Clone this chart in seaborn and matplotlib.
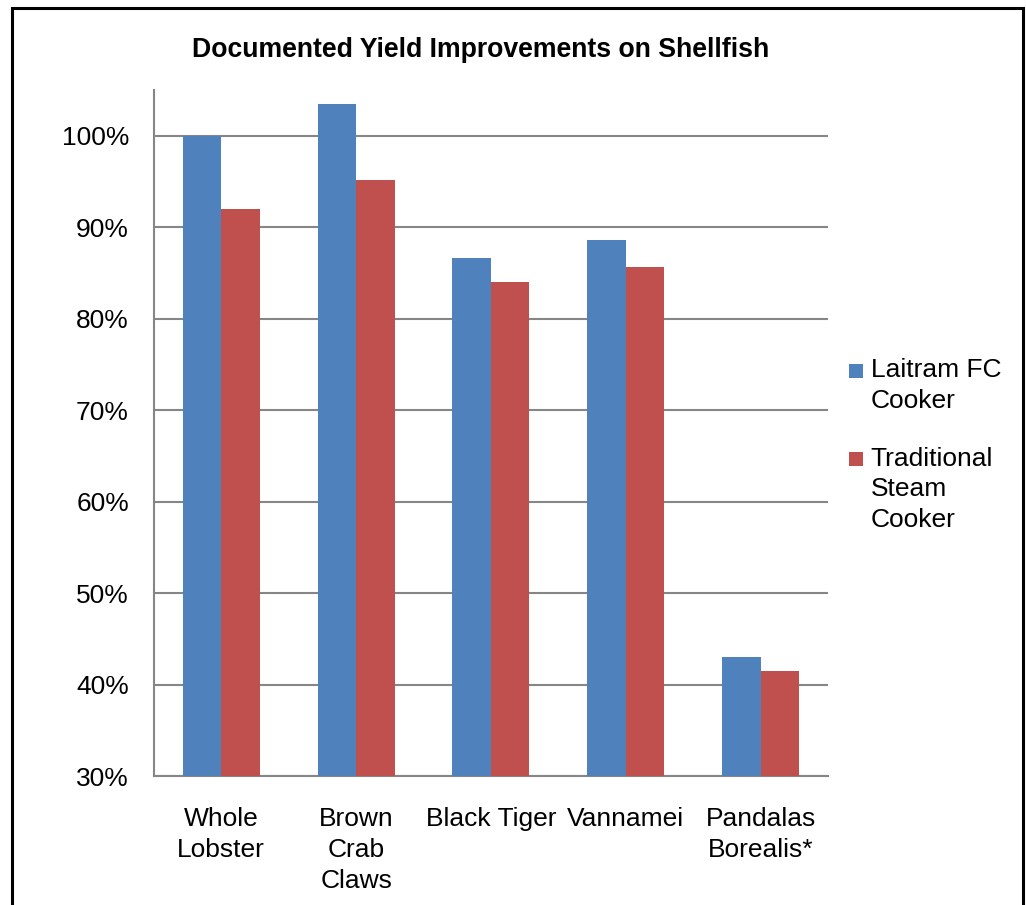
import numpy as np
import pandas as pd
import matplotlib
matplotlib.use("Agg")
import matplotlib.pyplot as plt
from matplotlib.patches import Rectangle
from matplotlib.ticker import PercentFormatter, FixedLocator
from matplotlib.legend_handler import HandlerPatch
import seaborn as sns

# data
categories = ["Whole\nLobster", "Brown\nCrab\nClaws", "Black Tiger", "Vannamei", "Pandalas\nBorealis*"]
series_names = ["Laitram FC\nCooker", "Traditional\nSteam\nCooker"]
laitram = [1.000, 1.035, 0.866, 0.886, 0.430]
traditional = [0.920, 0.952, 0.840, 0.856, 0.415]
y_ticks = [0.3, 0.4, 0.5, 0.6, 0.7, 0.8, 0.9, 1.0]

df = pd.DataFrame({
    "category": categories * 2,
    "yield": laitram + traditional,
    "cooker": [series_names[0]] * len(categories) + [series_names[1]] * len(categories),
})

sns.set_theme(style="white")
plt.rcParams["font.family"] = ["Liberation Sans", "DejaVu Sans"]
plt.rcParams["text.color"] = "black"
plt.rcParams["xtick.color"] = "black"
plt.rcParams["ytick.color"] = "black"

GRID = "#868686"
FS = 19

fig = plt.figure(figsize=(10.26, 9.05), dpi=100)
ax = fig.add_axes([0.150, 0.1425, 0.657, 0.758])

sns.barplot(
    data=df, x="category", y="yield", hue="cooker",
    palette=["#4F81BD", "#C0504D"], saturation=1,
    width=2 / 3.5, ax=ax, linewidth=0, zorder=3,
)

ax.set_ylim(0.30, 1.05)
ax.set_xlim(-0.5, len(categories) - 0.5)
ax.yaxis.set_major_locator(FixedLocator(y_ticks))
ax.yaxis.set_major_formatter(PercentFormatter(1.0, decimals=0))
ax.grid(axis="y", color=GRID, linewidth=1.5, zorder=0)
ax.set_axisbelow(True)

# category labels between boundary ticks, like Excel
ax.set_xticks(np.arange(-0.5, len(categories)), labels=[])
ax.set_xticks(np.arange(len(categories)), labels=categories, minor=True)
ax.tick_params(axis="x", which="major", length=6, width=1.5, color=GRID, direction="out")
ax.tick_params(axis="x", which="minor", length=0, pad=22, labelsize=FS)
ax.tick_params(axis="y", length=6, width=1.5, color=GRID, direction="out", pad=12, labelsize=FS)
for lab in ax.get_xticklabels(minor=True):
    lab.set_verticalalignment("top")
    lab.set_linespacing(1.37)

ax.set_xlabel("")
ax.set_ylabel("")
for side in ["top", "right"]:
    ax.spines[side].set_visible(False)
for side in ["left", "bottom"]:
    ax.spines[side].set_color(GRID)
    ax.spines[side].set_linewidth(1.5)

fig.text(0.468, 0.945, "Documented Yield Improvements on Shellfish",
         ha="center", va="center", fontsize=19.2, fontweight="bold")


def square_patch(legend, orig_handle, xdescent, ydescent, width, height, fontsize):
    # small square sitting next to the first line of the label
    return Rectangle((-xdescent, -ydescent + (height - width) / 2), width, width)


leg = ax.legend(
    loc="upper left", bbox_to_anchor=(0.8145, 0.619), bbox_transform=fig.transFigure,
    frameon=False, fontsize=FS, handlelength=0.52, handleheight=1.1,
    handletextpad=0.3, labelspacing=1.28, borderpad=0,
    handler_map={Rectangle: HandlerPatch(patch_func=square_patch)},
)
for t in leg.get_texts():
    t.set_linespacing(1.36)
for col in leg._legend_handle_box.get_children():
    for item in col.get_children():
        item.align = "top"

# outer frame of the chart object
fig.patches.append(Rectangle((0.0117, -0.1), 0.985, 1.1 - 0.009, transform=fig.transFigure,
                             fill=False, edgecolor="black", linewidth=2.2, clip_on=False))

fig.savefig("out.png", dpi=100)
